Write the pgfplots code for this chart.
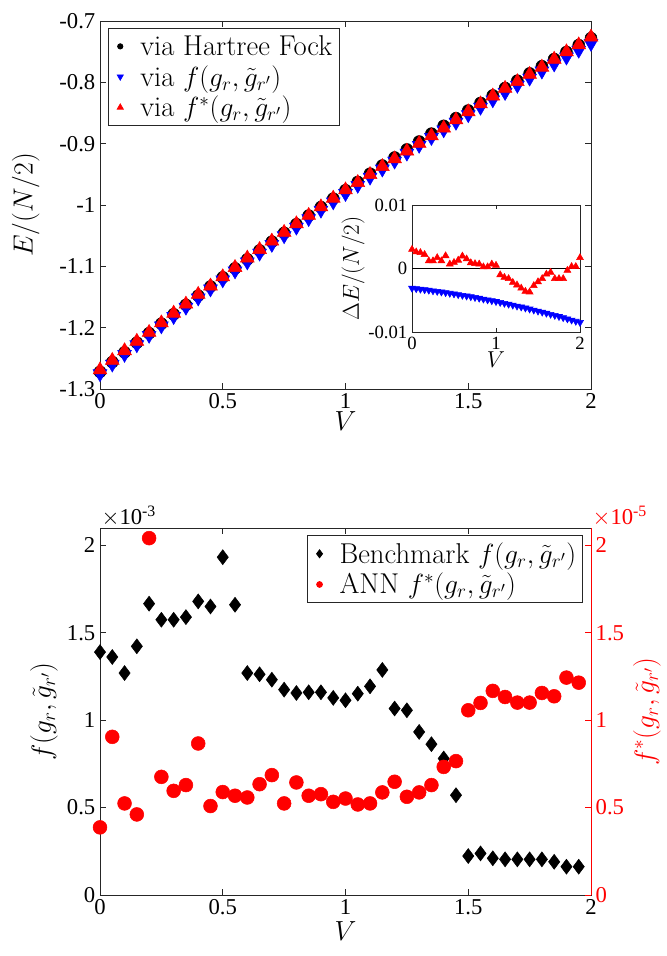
\documentclass[border=0pt]{standalone}
\usepackage{pgfplots}
\pgfplotsset{compat=1.18}
\usepackage{pgfplotstable}
\usepackage{fontspec}
\newfontfamily\tnr{Liberation Serif}

\pgfplotstableread{
V E dB dR
0 -1.2720 -3.10 3.0
0.05 -1.2561 -3.18 2.6
0.1 -1.2402 -3.26 2.5
0.15 -1.2245 -3.34 2.2
0.2 -1.2090 -3.42 1.2
0.25 -1.1935 -3.51 1.2
0.3 -1.1782 -3.60 1.7
0.35 -1.1629 -3.70 1.2
0.4 -1.1478 -3.80 2.0
0.45 -1.1329 -3.90 0.7
0.5 -1.1180 -4.00 0.95
0.55 -1.1033 -4.11 1.3
0.6 -1.0886 -4.22 1.95
0.65 -1.0741 -4.33 1.5
0.7 -1.0598 -4.44 0.9
0.75 -1.0455 -4.56 0.75
0.8 -1.0314 -4.68 0.7
0.85 -1.0173 -4.81 0.25
0.9 -1.0034 -4.94 0.25
0.95 -0.9897 -5.07 0.7
1 -0.9760 -5.20 0.5
1.05 -0.9625 -5.34 -1.0
1.1 -0.9490 -5.48 -1.4
1.15 -0.9357 -5.62 -1.6
1.2 -0.9226 -5.76 -2.2
1.25 -0.9095 -5.91 -2.6
1.3 -0.8966 -6.06 -3.1
1.35 -0.8837 -6.22 -3.6
1.4 -0.8710 -6.38 -3.7
1.45 -0.8585 -6.54 -2.7
1.5 -0.8460 -6.70 -2.1
1.55 -0.8337 -6.87 -1.6
1.6 -0.8214 -7.04 -0.9
1.65 -0.8093 -7.21 -0.6
1.7 -0.7974 -7.38 -1.6
1.75 -0.7855 -7.56 -1.6
1.8 -0.7738 -7.74 -1.6
1.85 -0.7621 -7.93 -0.3
1.9 -0.7506 -8.12 0.3
1.95 -0.7393 -8.31 0.3
2 -0.7280 -8.50 1.7
}\topdata

% f in units of 1e-3, fs in units of 1e-5
\pgfplotstableread{
V f fs
0 1.39 0.387
0.05 1.362 0.905
0.1 1.27 0.524
0.15 1.423 0.461
0.2 1.667 2.042
0.25 1.575 0.676
0.3 1.575 0.596
0.35 1.59 0.629
0.4 1.68 0.867
0.45 1.651 0.509
0.5 1.933 0.589
0.55 1.661 0.568
0.6 1.27 0.558
0.65 1.263 0.634
0.7 1.232 0.686
0.75 1.175 0.524
0.8 1.156 0.644
0.85 1.16 0.568
0.9 1.16 0.577
0.95 1.128 0.533
1 1.114 0.552
1.05 1.152 0.518
1.1 1.194 0.524
1.15 1.288 0.587
1.2 1.067 0.648
1.25 1.057 0.562
1.3 0.933 0.587
1.35 0.863 0.629
1.4 0.781 0.733
1.45 0.571 0.766
1.5 0.223 1.057
1.55 0.238 1.099
1.6 0.21 1.168
1.65 0.204 1.133
1.7 0.204 1.101
1.75 0.204 1.101
1.8 0.204 1.156
1.85 0.19 1.137
1.9 0.162 1.244
1.95 0.162 1.215
}\botdata

\pgfplotsset{
  mstyle/.style={
    scale only axis, anchor=south west,
    xmin=0, xmax=2, clip=false,
    scaled ticks=false,
    axis line style={black!85, line width=0.6pt},
    every tick/.style={black!85, line width=0.6pt},
    major tick length=4.5pt,
    tick label style={font=\tnr\fontsize{17}{17}\selectfont},
    label style={font=\fontsize{21}{24}\selectfont},
    xtick={0,0.5,1,1.5,2}, xticklabels={0,0.5,1,1.5,2},
  },
  mlegend/.style={
    legend cell align=left,
    legend image code/.code={
      \path[draw=none, fill=none] (0pt,-1pt) rectangle (19pt,1pt);
      \draw[##1] plot coordinates {(6pt,0pt)};
    },
    legend style={draw=black!85, line width=0.6pt,
      font=\fontsize{21.5}{24}\selectfont, row sep=2pt,
      inner sep=3pt},
  },
}

\begin{document}
\begin{tikzpicture}
\useasboundingbox (0,0) rectangle (500.25pt,717pt);

% ---- top panel
\begin{axis}[mstyle, mlegend, at={(75pt,425.25pt)}, width=368.25pt, height=276pt,
  ymin=-1.3, ymax=-0.7,
  ytick={-1.3,-1.2,-1.1,-1,-0.9,-0.8,-0.7},
  yticklabels={-1.3,-1.2,-1.1,-1,-0.9,-0.8,-0.7},
  xlabel={$V$}, ylabel={$E/(N/2)$},
  xlabel shift=-5pt, ylabel shift=8pt,
  legend style={at={(0.016,0.98)}, anchor=north west},
]
\addplot[only marks, mark=*, mark size=4.5pt, black,
  legend image post style={mark size=2pt}] table[x=V,y=E]{\topdata};
\addlegendentry{via Hartree Fock}
\addplot[only marks, mark=triangle*, mark options={rotate=180}, mark size=6pt, blue,
  legend image post style={mark size=2.6pt}]
  table[x=V, y expr=\thisrow{E}+0.001*\thisrow{dB}]{\topdata};
\addlegendentry{via $f(g_r,\tilde{g}_{r'})$}
\addplot[only marks, mark=triangle*, mark size=6pt, red,
  legend image post style={mark size=2.6pt}]
  table[x=V, y expr=\thisrow{E}+0.001*\thisrow{dR}]{\topdata};
\addlegendentry{via $f^*(g_r,\tilde{g}_{r'})$}
\end{axis}

% ---- inset
\begin{axis}[mstyle, at={(309pt,468pt)}, width=126pt, height=95.25pt,
  axis background/.style={fill=white}, clip=true,
  ymin=-0.01, ymax=0.01, major tick length=3pt,
  xtick={0,1,2}, xticklabels={0,1,2},
  ytick={-0.01,0,0.01}, yticklabels={-0.01,0,0.01},
  tick label style={font=\tnr\fontsize{14}{14}\selectfont},
  label style={font=\fontsize{19}{21}\selectfont},
  xlabel={$V$}, ylabel={$\Delta E/(N/2)$},
  xlabel shift=-5pt, ylabel shift=-4pt,
]
\addplot[black, line width=1.4pt] coordinates {(0,0) (2,0)};
\addplot[only marks, mark=triangle*, mark options={rotate=180}, mark size=3pt, blue]
  table[x=V, y expr=0.001*\thisrow{dB}]{\topdata};
\addplot[only marks, mark=triangle*, mark size=3pt, red]
  table[x=V, y expr=0.001*\thisrow{dR}]{\topdata};
\end{axis}

% ---- bottom panel, left axis
\begin{axis}[mstyle, mlegend, at={(75pt,45.75pt)}, width=368.25pt, height=275.25pt,
  ymin=0, ymax=2.1, ytick pos=left,
  ytick={0,0.5,1,1.5,2}, yticklabels={0,0.5,1,1.5,2},
  xlabel={$V$}, ylabel={$f(g_r,\tilde{g}_{r'})$},
  xlabel shift=-2pt,
  legend style={at={(0.984,0.98)}, anchor=north east},
]
\addplot[only marks, mark=diamond*, mark size=5.6pt, black,
  legend image post style={mark size=3pt}] table[x=V,y=f]{\botdata};
\addlegendentry{Benchmark $f(g_r,\tilde{g}_{r'})$}
\addlegendimage{only marks, mark=*, red, mark size=2.2pt}
\addlegendentry{ANN $f^*(g_r,\tilde{g}_{r'})$}
\node[anchor=south west, inner sep=1pt, font=\tnr\fontsize{17}{17}\selectfont]
  at (rel axis cs:0,1) {$\times$10\textsuperscript{-3}};
\end{axis}

% ---- bottom panel, right axis
\begin{axis}[mstyle, at={(75pt,45.75pt)}, width=368.25pt, height=275.25pt,
  axis x line=none, axis y line*=right,
  y axis line style={red, line width=0.6pt},
  every y tick/.style={red, line width=0.6pt},
  yticklabel style={red},
  ylabel style={red},
  ymin=0, ymax=2.1,
  ytick={0,0.5,1,1.5,2}, yticklabels={0,0.5,1,1.5,2},
  ylabel={$f^*(g_r,\tilde{g}_{r'})$},
]
\addplot[only marks, mark=*, mark size=5.2pt, red] table[x=V,y=fs]{\botdata};
\node[anchor=south west, inner sep=1pt, red, font=\tnr\fontsize{17}{17}\selectfont]
  at (rel axis cs:1,1) {$\times$10\textsuperscript{-5}};
\end{axis}
\end{tikzpicture}
\end{document}
